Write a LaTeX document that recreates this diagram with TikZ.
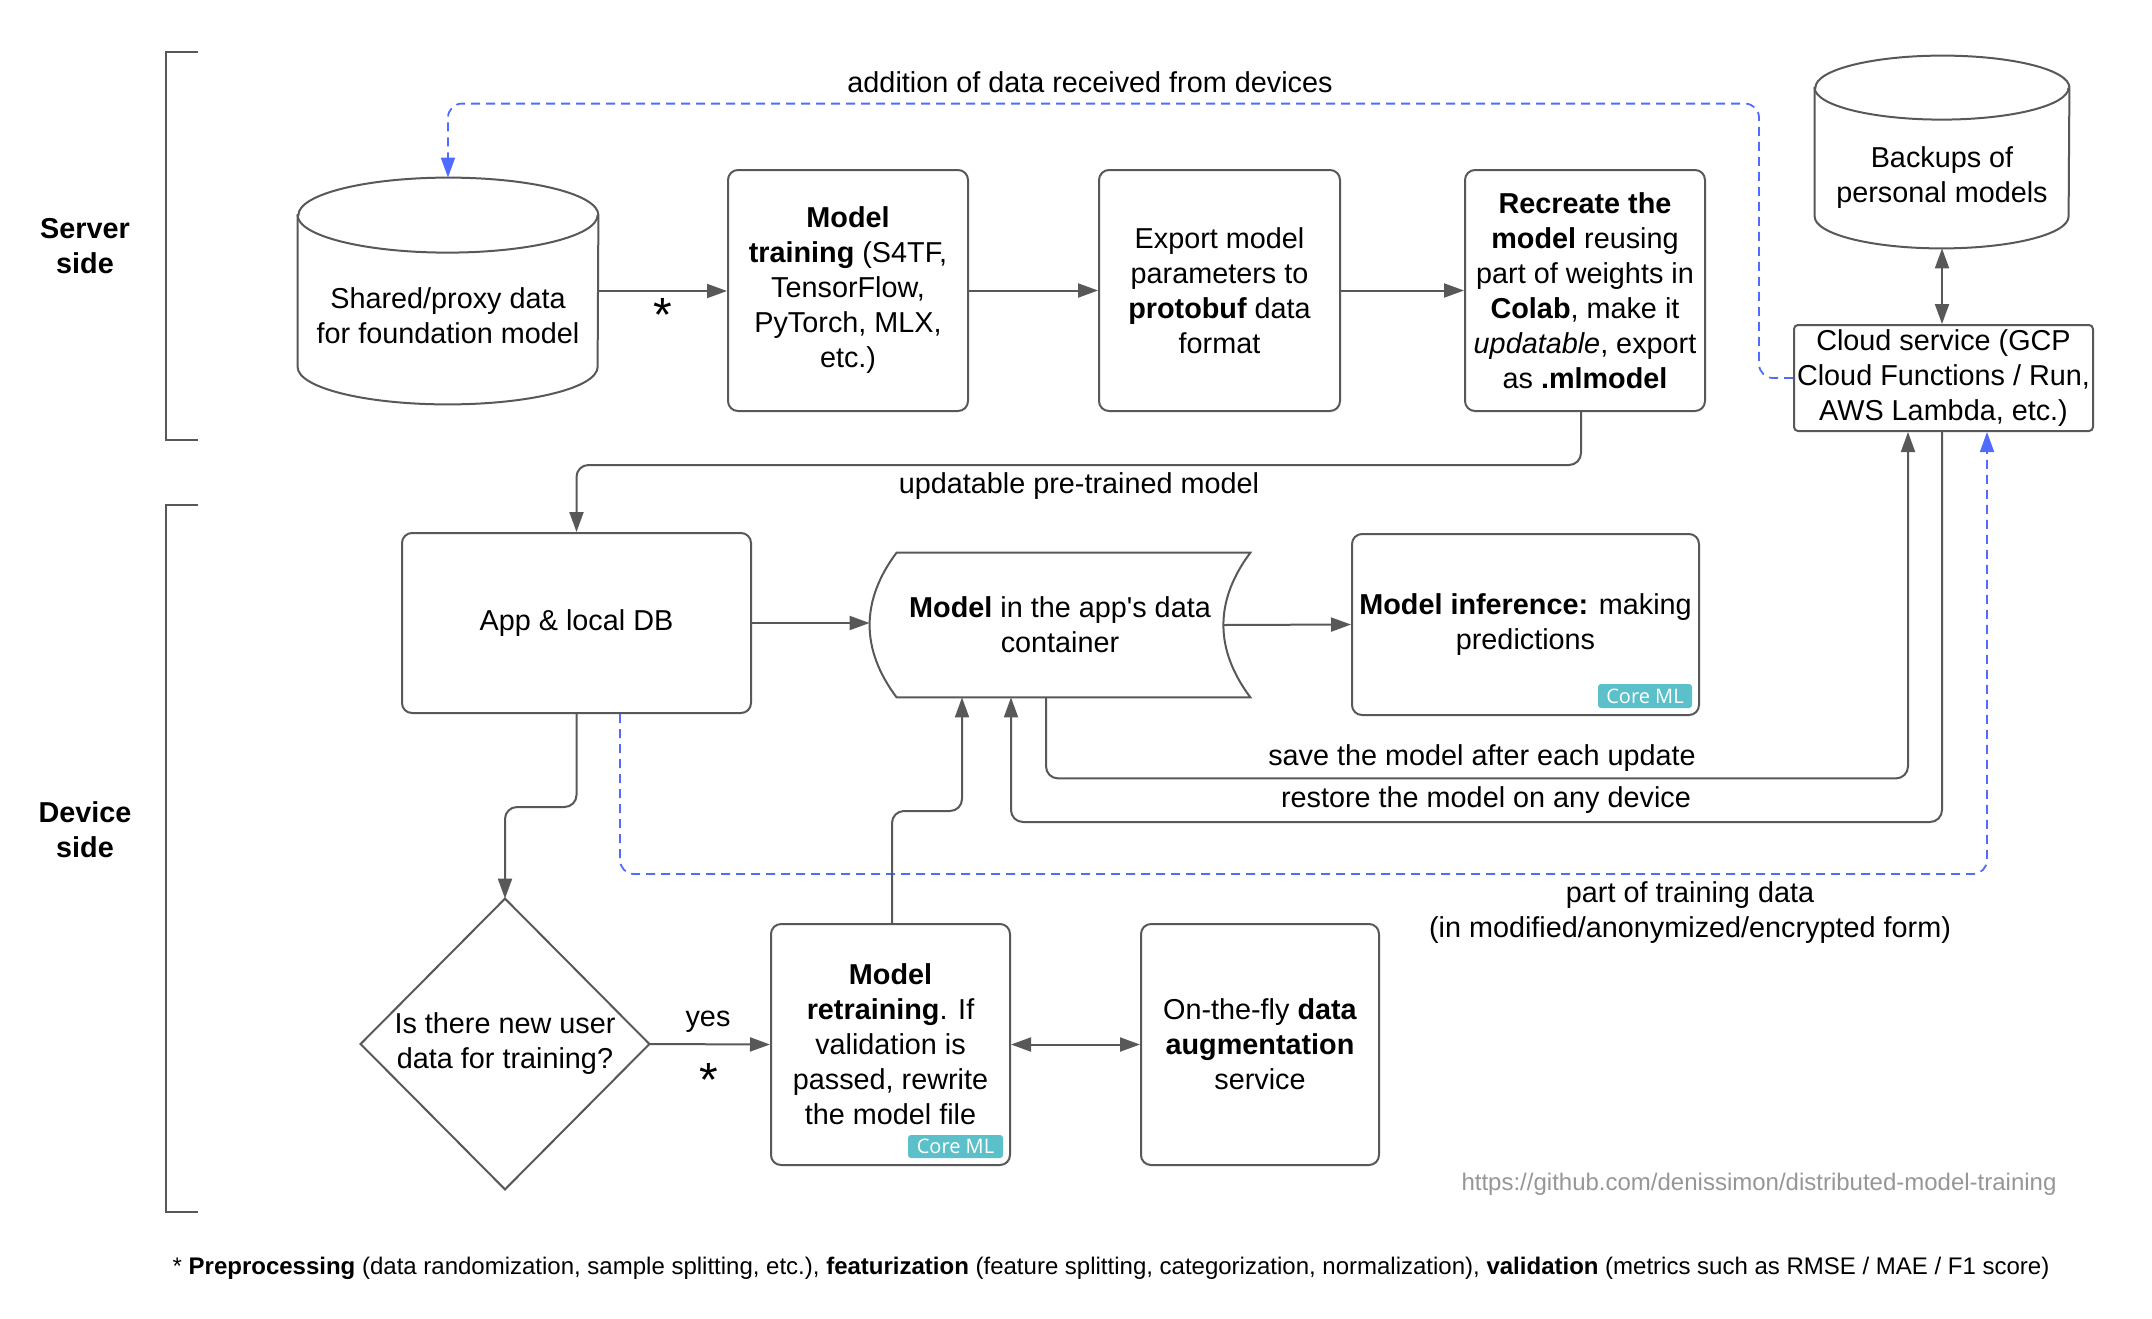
\documentclass[tikz,border=0pt]{standalone}
\usepackage{fontspec}
\setmainfont{Liberation Sans}
\newfontfamily\badgefont{Open Sans}
\usetikzlibrary{arrows.meta}
\definecolor{linegray}{RGB}{88,88,88}
\definecolor{dashblue}{RGB}{80,108,255}
\definecolor{badgeteal}{RGB}{91,192,201}
\definecolor{urlgray}{RGB}{150,150,150}
\newcommand\mainfs{\fontsize{14.4pt}{17.5pt}\selectfont}
\newcommand\smallfs{\fontsize{12pt}{14.5pt}\selectfont}
\newcommand\starfs{\fontsize{24pt}{28pt}\selectfont}
\tikzset{
  box/.style={draw=linegray, line width=1pt, rounded corners=5pt, align=center, inner sep=1pt},
  ghost/.style={inner sep=0pt, align=center},
  outline/.style={draw=linegray, line width=1pt},
  blk/.tip={Triangle[length=10pt,width=7pt]},
  conn/.style={draw=linegray, line width=1pt, rounded corners=6pt, -blk},
  conn2/.style={draw=linegray, line width=1pt, blk-blk},
  feed/.style={draw=dashblue, line width=0.9pt, dash pattern=on 4.5pt off 3pt, rounded corners=7pt, -blk},
  lbl/.style={inner sep=0pt, align=center},
  starlbl/.style={inner sep=0pt, anchor=base, font=\starfs},
  badge/.style={fill=badgeteal, text=white, font=\badgefont\fontsize{10pt}{12pt}\selectfont,
    minimum width=47pt, minimum height=12pt, inner sep=0pt, rounded corners=1.5pt},
}
\begin{document}
\begin{tikzpicture}[x=0.5pt, y=-0.5pt, font=\mainfs]
\path[use as bounding box] (0,0) rectangle (2152,1318);

% side brackets and their captions
\draw[outline] (198,52) -- (166,52) -- (166,440) -- (198,440);
\draw[outline] (198,505) -- (166,505) -- (166,1212) -- (198,1212);
\node[lbl, font=\mainfs\bfseries] (server) at (85,246) {Server\\side};
\node[lbl, font=\mainfs\bfseries] (device) at (85,830) {Device\\side};

% ---------- server side ----------
\node[ghost, minimum width=150pt, minimum height=113pt] (shared) at (448,291) {};
\draw[outline] ([yshift=-18.75pt]shared.north west) -- ([yshift=18.75pt]shared.south west)
  arc[start angle=180, end angle=360, x radius=75pt, y radius=18.75pt]
  -- ([yshift=-18.75pt]shared.north east)
  arc[start angle=0, end angle=180, x radius=75pt, y radius=18.75pt] -- cycle;
\draw[outline] ([yshift=-18.75pt]shared.north west)
  arc[start angle=180, end angle=360, x radius=75pt, y radius=18.75pt];
\node[lbl] (sharedtext) at ([yshift=-12.5pt]shared.center) {Shared/proxy data\\for foundation model};

\node[box, minimum width=120pt, minimum height=120.5pt] (train) at (848,290.5)
  {\textbf{Model}\\\textbf{training} (S4TF,\\TensorFlow,\\PyTorch, MLX,\\etc.)};
\node[box, minimum width=120.5pt, minimum height=120.5pt] (export) at (1219.5,290.5)
  {Export model\\parameters to\\\textbf{protobuf} data\\format};
\node[box, minimum width=120pt, minimum height=120.5pt] (recreate) at (1585,290.5)
  {\textbf{Recreate the}\\\textbf{model} reusing\\part of weights in\\\textbf{Colab}, make it\\\textit{updatable}, export\\as \textbf{.mlmodel}};

\node[ghost, minimum width=127pt, minimum height=96pt] (backups) at (1942,152) {};
\draw[outline] ([yshift=-16pt]backups.north west) -- ([yshift=16pt]backups.south west)
  arc[start angle=180, end angle=360, x radius=63.5pt, y radius=16pt]
  -- ([yshift=-16pt]backups.north east)
  arc[start angle=0, end angle=180, x radius=63.5pt, y radius=16pt] -- cycle;
\draw[outline] ([yshift=-16pt]backups.north west)
  arc[start angle=180, end angle=360, x radius=63.5pt, y radius=16pt];
\node[lbl] (backupstext) at ([yshift=-12.75pt]backups.center) {Backups of\\personal models};

\node[box, rounded corners=2pt, minimum width=149.5pt, minimum height=53pt] (cloud) at (1943.5,378)
  {Cloud service (GCP\\Cloud Functions / Run,\\AWS Lambda, etc.)};

% ---------- device side ----------
\node[box, minimum width=174.5pt, minimum height=90pt] (app) at (576.5,623) {App \& local DB};

\node[ghost, minimum width=190pt, minimum height=72pt] (cont) at (1060,625)
  {\textbf{Model} in the app\textquotesingle s data\\container};
\draw[outline] ([xshift=13.5pt]cont.north west) -- (cont.north east)
  .. controls ([xshift=-18pt,yshift=-24pt]cont.north east) and ([xshift=-18pt,yshift=24pt]cont.south east) .. (cont.south east)
  -- ([xshift=13.5pt]cont.south west)
  .. controls ([xshift=-4.5pt,yshift=24pt]cont.south west) and ([xshift=-4.5pt,yshift=-24pt]cont.north west) .. ([xshift=13.5pt]cont.north west)
  -- cycle;

\node[box, minimum width=173.5pt, minimum height=90.5pt] (inference) at (1525.5,624.5)
  {\textbf{Model inference:} making\\predictions};
\node[badge] (coreml1) at (1645,696) {Core ML};

\node[ghost, minimum width=144pt, minimum height=145pt] (dia) at (505,1044)
  {Is there new user\\data for training?};
\draw[outline, line join=miter] (dia.north) -- (dia.east) -- (dia.south) -- (dia.west) -- cycle;

\node[box, minimum width=119.5pt, minimum height=120.5pt] (retrain) at (890.5,1044.5)
  {\textbf{Model}\\\textbf{retraining}. If\\validation is\\passed, rewrite\\the model file};
\node[badge, minimum width=47.5pt, minimum height=11.5pt] (coreml2) at (955.5,1146.5) {Core ML};

\node[box, minimum width=119pt, minimum height=120.5pt] (augment) at (1260,1044.5)
  {On-the-fly \textbf{data}\\\textbf{augmentation}\\service};

% ---------- connectors ----------
\draw[conn] (shared.east) -- (shared.east -| train.west);
\node[starlbl] (star1) at (663,331) {*};
\draw[conn] (train) -- (export);
\draw[conn] (export) -- (recreate);
\draw[conn2] (backups.south) -- (backups.south |- cloud.north);

\draw[feed] (cloud.west) -- ++(-34,0) |- ([yshift=37pt]shared.north) -- (shared.north);
\node[lbl] (addlbl) at (1090,82) {addition of data received from devices};

\draw[conn] ([xshift=-2pt]recreate.south) -- ++(0,53) -| (app.north);
\node[lbl] (updlbl) at (1079,486) {updatable pre-trained model};

\draw[conn] (app.east) -- (app.east -| cont.west);
\draw[conn] ([xshift=-13.5pt]cont.east) -- (inference.west);

\draw[conn] ([xshift=-7pt]cont.south) -- ++(0,81) -| ([xshift=-17.75pt]cloud.south);
\node[lbl] (savelbl) at (1482,758) {save the model after each update};
\draw[conn] ([xshift=-0.75pt]cloud.south) -- ++(0,390) -| ([xshift=-24.5pt]cont.south);
\node[lbl] (restlbl) at (1486,800) {restore the model on any device};

\draw[feed] ([xshift=21.75pt]app.south) -- ++(0,160) -| ([xshift=21.75pt]cloud.south);
\node[lbl] (partlbl) at (1690,913) {part of training data\\(in modified/anonymized/encrypted form)};

\draw[conn] (app.south) -- ++(0,93) -| (dia.north);
\draw[conn] (dia.east) -- (retrain.west);
\node[lbl] (yes) at (708,1022) {yes};
\node[starlbl] (star2) at (709,1096) {*};
\draw[conn] ([xshift=0.75pt]retrain.north) -- ++(0,-112) -| ([xshift=-49pt]cont.south);
\draw[conn2] (retrain.east) -- (augment.west);

% ---------- credits and footnote ----------
\node[lbl, font=\smallfs, text=urlgray] (url) at (1759,1184)
  {https://github.com/denissimon/distributed-model-training};
\node[lbl, font=\smallfs] (foot) at (1111,1268)
  {* \textbf{Preprocessing} (data randomization, sample splitting, etc.), \textbf{featurization} (feature splitting, categorization, normalization), \textbf{validation} (metrics such as RMSE / MAE / F1 score)};
\end{tikzpicture}
\end{document}
